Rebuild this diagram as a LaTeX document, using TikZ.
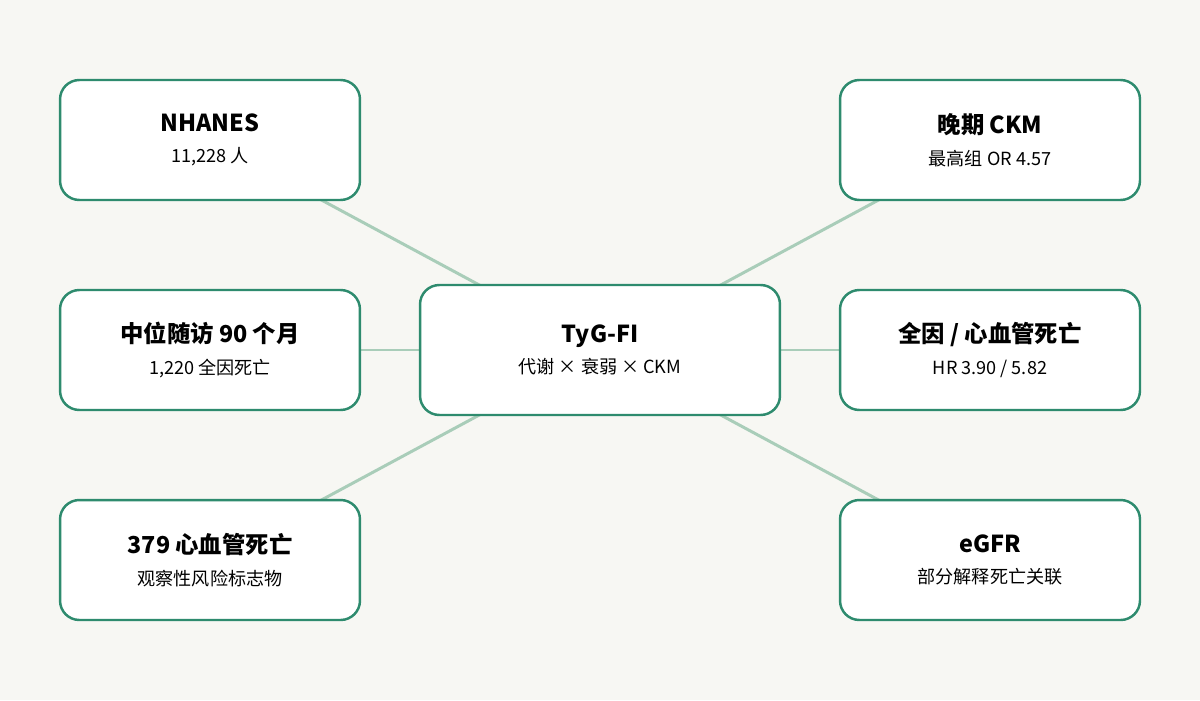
\documentclass[tikz,border=0pt]{standalone}
\usepackage{fontspec}
\setmainfont{Noto Sans CJK SC}
\usetikzlibrary{backgrounds}
\definecolor{bg}{HTML}{F7F7F3}
\definecolor{bd}{HTML}{2E8B6E}
\definecolor{ln}{HTML}{A9CDB9}
\begin{document}
\begin{tikzpicture}[x=0.02cm,y=-0.02cm,
  box/.style={draw=bd,line width=1.4pt,fill=white,rounded corners=11pt,minimum width=6cm,minimum height=2.4cm,align=center,inner sep=0pt},
  link/.style={draw=ln,line width=1.7pt}]
\useasboundingbox (0,0) rectangle (1200,700);
\newcommand\bx[5]{\node[box,#2] (#1) at #3 {\textbf{\fontsize{13.3}{16}\selectfont #4}\\[6pt]{\fontsize{10.3}{12}\selectfont #5}};}
\bx{c}{minimum width=7.2cm,minimum height=2.6cm}{(600,350)}{TyG-FI}{代谢 × 衰弱 × CKM}
\bx{a1}{}{(210,140)}{NHANES}{11,228 人}
\bx{a2}{}{(210,350)}{中位随访 90 个月}{1,220 全因死亡}
\bx{a3}{}{(210,560)}{379 心血管死亡}{观察性风险标志物}
\bx{b1}{}{(990,140)}{晚期 CKM}{最高组 OR 4.57}
\bx{b2}{}{(990,350)}{全因 / 心血管死亡}{HR 3.90 / 5.82}
\bx{b3}{}{(990,560)}{eGFR}{部分解释死亡关联}
\begin{scope}[on background layer]
\fill[bg] (0,0) rectangle (1200,700);
\foreach \n in {a1,a2,a3,b1,b2,b3} \draw[link] (c.center) -- (\n.center);
\end{scope}
\end{tikzpicture}
\end{document}
